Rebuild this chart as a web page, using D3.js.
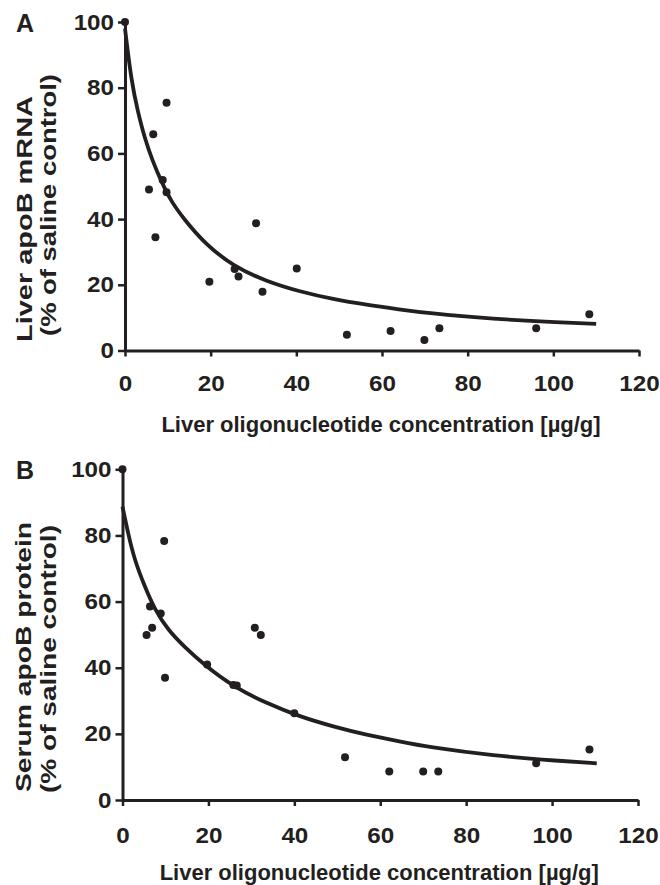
<!DOCTYPE html>
<html>
<head>
<meta charset="utf-8" />
<title>apoB vs liver oligonucleotide</title>
<script src="https://d3js.org/d3.v7.min.js"></script>
<style>
body { margin: 0; background: #fff; }
svg text { font-family: "Liberation Sans", Arial, sans-serif; font-weight: bold; fill: #231f20; }
</style>
</head>
<body>
<div id="chart"></div>
<script>
// values
var xTicks = [0, 20, 40, 60, 80, 100, 120];
var yTicks = [0, 20, 40, 60, 80, 100];

// panel A: liver apoB mRNA
var concA = [0, 9.7, 6.6, 5.6, 8.8, 9.7, 7.1, 30.6, 19.7, 25.6, 26.5, 32.1, 40.1, 51.8, 62.0, 69.9, 73.4, 96.0, 108.4];
var mrnaA = [100, 75.4, 65.8, 49, 51.9, 48.2, 34.5, 38.7, 20.9, 24.8, 22.5, 17.9, 25.0, 4.8, 5.9, 3.2, 6.8, 6.8, 11.0];
var fitAx = [0, 1.5, 3, 4.6, 6.5, 8.5, 10.8, 13.9, 18.6, 25.3, 33.1, 40.9, 48.6, 56.4, 64.2, 70.4, 86, 101.6, 110];
var fitAy = [98, 81.8, 72.7, 64.6, 57.5, 51.4, 45.3, 39.8, 32.6, 25.6, 21.0, 17.9, 15.6, 13.9, 12.5, 11.4, 9.6, 8.5, 8.1];

// panel B: serum apoB protein
var concB = [0, 9.7, 6.4, 6.9, 5.6, 8.9, 9.9, 19.7, 25.8, 26.6, 30.8, 32.2, 40.0, 51.8, 62.1, 70.0, 73.5, 96.3, 108.7];
var protB = [100, 78.3, 58.5, 52.1, 49.9, 56.4, 37.0, 41.0, 34.8, 34.6, 52.1, 49.9, 26.2, 12.9, 8.6, 8.6, 8.6, 11.1, 15.3];
var fitBx = [0, 1.3, 2.8, 5.2, 7.5, 10.6, 14.5, 19.1, 25.8, 33.6, 41.3, 49.1, 56.8, 64.6, 70.8, 86.3, 101.8, 110.4];
var fitBy = [88.7, 80.6, 72.6, 64.5, 57.6, 51.4, 46.2, 40.8, 34.3, 29.2, 25.2, 22.2, 19.7, 17.7, 16.1, 13.4, 11.8, 11.1];

var ink = "#231f20";
var svg = d3.select("#chart").append("svg")
    .attr("width", 660)
    .attr("height", 885);

function panel(opt) {
    var x = d3.scaleLinear().domain([0, 120]).range([opt.left, opt.right]);
    var y = d3.scaleLinear().domain([0, 100]).range([opt.bottom, opt.top]);
    var g = svg.append("g");

    var xAxis = d3.axisBottom(x).tickValues(xTicks).tickSize(6).tickPadding(opt.xpad).tickSizeOuter(0);
    var yAxis = d3.axisLeft(y).tickValues(yTicks).tickSize(7).tickPadding(3).tickSizeOuter(0);

    var gx = g.append("g")
        .attr("transform", "translate(0," + opt.bottom + ")")
        .call(xAxis);
    var gy = g.append("g")
        .attr("transform", "translate(" + opt.left + ",0)")
        .call(yAxis);

    [gx, gy].forEach(function(a) {
        a.select(".domain").attr("stroke", ink).attr("stroke-width", 3);
        a.selectAll(".tick line").attr("stroke", ink).attr("stroke-width", 2.5);
        a.selectAll(".tick text")
            .attr("font-size", 22)
            .attr("fill", ink)
            .attr("transform", "scale(1.1,1)")
            .style("font-family", "'Liberation Sans', Arial, sans-serif")
            .style("font-weight", "bold");
    });

    var line = d3.line()
        .x(function(d) { return x(d[0]); })
        .y(function(d) { return y(d[1]); })
        .curve(d3.curveBasis);

    g.append("path")
        .datum(d3.zip(opt.fx, opt.fy))
        .attr("d", line)
        .attr("fill", "none")
        .attr("stroke", ink)
        .attr("stroke-width", 3.8);

    g.selectAll(".dot")
        .data(d3.zip(opt.px, opt.py))
        .enter().append("circle")
        .attr("class", "dot")
        .attr("cx", function(d) { return x(d[0]); })
        .attr("cy", function(d) { return y(d[1]); })
        .attr("r", 4)
        .attr("fill", ink);

    g.append("text")
        .attr("x", 16)
        .attr("y", opt.top + 10)
        .attr("font-size", 25)
        .text(opt.letter);

    g.append("text")
        .attr("x", (opt.left + opt.right) / 2 - 1)
        .attr("y", opt.bottom + opt.titleGap)
        .attr("text-anchor", "middle")
        .attr("font-size", 22)
        .text("Liver oligonucleotide concentration [µg/g]");

    // two-line rotated y title; lengths follow the reference's stretched text
    opt.ylines.forEach(function(l) {
        g.append("text")
            .attr("transform", "translate(" + l.base + "," + l.mid + ") rotate(-90)")
            .attr("text-anchor", "middle")
            .attr("font-size", 22)
            .attr("textLength", l.len)
            .attr("lengthAdjust", "spacingAndGlyphs")
            .text(l.text);
    });
}

panel({ letter: "A", left: 125, right: 639, top: 22, bottom: 350.5, xpad: 19, titleGap: 81,
        ylines: [{ text: "Liver apoB mRNA", base: 32, mid: 219, len: 246 },
                 { text: "(% of saline control)", base: 56, mid: 205, len: 262 }],
        px: concA, py: mrnaA, fx: fitAx, fy: fitAy });
panel({ letter: "B", left: 122.5, right: 638, top: 469.3, bottom: 800, xpad: 21, titleGap: 80,
        ylines: [{ text: "Serum apoB protein", base: 31, mid: 657, len: 270 },
                 { text: "(% of saline control)", base: 56, mid: 659, len: 268 }],
        px: concB, py: protB, fx: fitBx, fy: fitBy });
</script>
</body>
</html>
